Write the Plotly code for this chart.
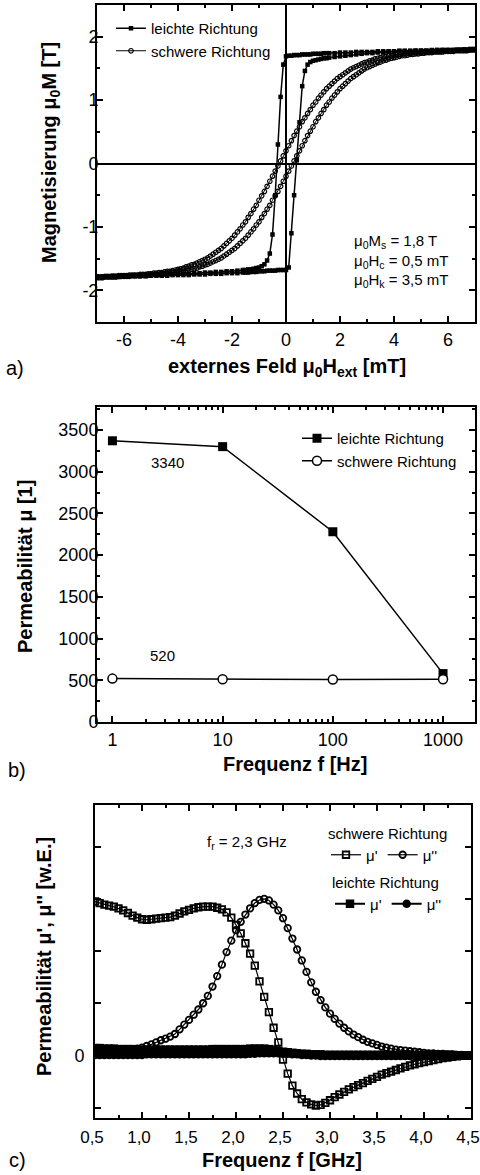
import plotly.graph_objects as go

# ---------------- Panel a: hysteresis loops ----------------
H_FINE = [round(-7.0 + 0.1 * i, 1) for i in range(141)]

M_SCHWER_AB = [
    -1.79, -1.79, -1.79, -1.78, -1.78, -1.78, -1.78, -1.78, -1.77, -1.77,
    -1.77, -1.77, -1.76, -1.76, -1.76, -1.76, -1.75, -1.75, -1.75, -1.74,
    -1.74, -1.73, -1.73, -1.72, -1.72, -1.71, -1.70, -1.70, -1.69, -1.68,
    -1.67, -1.66, -1.65, -1.63, -1.62, -1.60, -1.59, -1.57, -1.55, -1.53,
    -1.51, -1.49, -1.46, -1.43, -1.40, -1.37, -1.34, -1.30, -1.26, -1.22,
    -1.18, -1.13, -1.08, -1.03, -0.97, -0.92, -0.85, -0.79, -0.72, -0.66,
    -0.58, -0.51, -0.44, -0.36, -0.28, -0.20, -0.12, -0.04,
    0.04, 0.12, 0.20, 0.28, 0.36, 0.44, 0.51, 0.58, 0.66, 0.72,
    0.79, 0.85, 0.92, 0.97, 1.03, 1.08, 1.13, 1.18, 1.22, 1.26,
    1.30, 1.34, 1.37, 1.40, 1.43, 1.46, 1.49, 1.51, 1.53, 1.55,
    1.57, 1.59, 1.60, 1.62, 1.63, 1.65, 1.66, 1.67, 1.68, 1.69,
    1.70, 1.70, 1.71, 1.72, 1.72, 1.73, 1.73, 1.74, 1.74, 1.75,
    1.75, 1.75, 1.76, 1.76, 1.76, 1.76, 1.77, 1.77, 1.77, 1.77,
    1.78, 1.78, 1.78, 1.78, 1.78, 1.79, 1.79, 1.79, 1.79, 1.79,
    1.80, 1.80, 1.80]

M_SCHWER_AUF = [
    -1.80, -1.80, -1.80, -1.79, -1.79, -1.79, -1.79, -1.79, -1.78, -1.78,
    -1.78, -1.78, -1.78,
    -1.77, -1.77, -1.77, -1.77, -1.76, -1.76, -1.76, -1.76, -1.75, -1.75,
    -1.75, -1.74, -1.74, -1.73, -1.73, -1.72, -1.72, -1.71, -1.70, -1.70,
    -1.69, -1.68, -1.67, -1.66, -1.65, -1.63, -1.62, -1.60, -1.59, -1.57,
    -1.55, -1.53, -1.51, -1.49, -1.46, -1.43, -1.40, -1.37, -1.34, -1.30,
    -1.26, -1.22, -1.18, -1.13, -1.08, -1.03, -0.97, -0.92, -0.85, -0.79,
    -0.72, -0.66, -0.58, -0.51, -0.44, -0.36, -0.28, -0.20, -0.12, -0.04,
    0.04, 0.12, 0.20, 0.28, 0.36, 0.44, 0.51, 0.58, 0.66, 0.72,
    0.79, 0.85, 0.92, 0.97, 1.03, 1.08, 1.13, 1.18, 1.22, 1.26,
    1.30, 1.34, 1.37, 1.40, 1.43, 1.46, 1.49, 1.51, 1.53, 1.55,
    1.57, 1.59, 1.60, 1.62, 1.63, 1.65, 1.66, 1.67, 1.68, 1.69,
    1.70, 1.70, 1.71, 1.72, 1.72, 1.73, 1.73, 1.74, 1.74, 1.75,
    1.75, 1.75, 1.76, 1.76, 1.76, 1.76, 1.77, 1.77, 1.77, 1.77,
    1.78, 1.78, 1.78, 1.78, 1.78, 1.79, 1.79, 1.79]

H_LEICHT = ([round(-7.0 + 0.2 * i, 1) for i in range(28)]
            + [round(-1.5 + 0.1 * i, 1) for i in range(31)]
            + [round(1.6 + 0.2 * i, 1) for i in range(28)])

M_LEICHT_AB = [
    -1.78, -1.78, -1.78, -1.77, -1.77, -1.77, -1.77, -1.76, -1.76, -1.76,
    -1.76, -1.75, -1.75, -1.75, -1.75, -1.74, -1.74, -1.74, -1.73, -1.73,
    -1.72, -1.72, -1.71, -1.71, -1.70, -1.70, -1.69, -1.68,
    -1.68, -1.67, -1.67, -1.66, -1.65, -1.64, -1.62, -1.59, -1.53, -1.42,
    -1.12, -0.50, 0.30, 1.05, 1.56, 1.69,
    1.70, 1.70, 1.71, 1.71, 1.71, 1.72, 1.72, 1.72, 1.72, 1.73,
    1.73, 1.73, 1.73, 1.74, 1.74,
    1.74, 1.74, 1.75, 1.75, 1.75, 1.76, 1.76, 1.76, 1.76, 1.77,
    1.77, 1.77, 1.77, 1.78, 1.78, 1.78, 1.78, 1.78, 1.78, 1.79,
    1.79, 1.79, 1.79, 1.79, 1.79, 1.79, 1.79, 1.80]

M_LEICHT_AUF = [
    -1.79, -1.79, -1.79, -1.79, -1.79, -1.78, -1.78, -1.78, -1.78, -1.78,
    -1.77, -1.77, -1.77, -1.77, -1.76, -1.76, -1.76, -1.76, -1.75, -1.75,
    -1.75, -1.74, -1.74, -1.74, -1.73, -1.73, -1.73, -1.72,
    -1.72, -1.72, -1.71, -1.71, -1.71, -1.70, -1.70, -1.70, -1.69, -1.69,
    -1.69, -1.69, -1.68, -1.68, -1.68, -1.68,
    -1.64, -1.10, -0.50, 0.05, 0.65, 1.22, 1.46, 1.56, 1.60, 1.62,
    1.63, 1.64, 1.65, 1.66, 1.66,
    1.67, 1.68, 1.69, 1.70, 1.71, 1.72, 1.73, 1.74, 1.74, 1.75,
    1.75, 1.76, 1.76, 1.77, 1.77, 1.77, 1.78, 1.78, 1.78, 1.78,
    1.79, 1.79, 1.79, 1.79, 1.79, 1.80, 1.80, 1.80]

A_XTICKS = [-6, -4, -2, 0, 2, 4, 6]
A_YTICKS = [-2, -1, 0, 1, 2]

# ---------------- Panel b: permeability vs frequency ----------------
F_HZ = [1, 10, 100, 1000]
MU_LEICHT = [3370, 3300, 2280, 580]
MU_SCHWER = [520, 512, 510, 512]
B_YTICKS = [0, 500, 1000, 1500, 2000, 2500, 3000, 3500]

# ---------------- Panel c: HF permeability ----------------
F_GHZ = [round(0.5 + 0.05 * i, 2) for i in range(81)]

MU1_SCHWER = [
    2.95, 2.92, 2.89, 2.87, 2.85, 2.82, 2.78, 2.73, 2.68, 2.64, 2.61,
    2.60, 2.61, 2.62, 2.63, 2.64, 2.65, 2.68, 2.72, 2.76, 2.79,
    2.82, 2.84, 2.85, 2.85, 2.85, 2.83, 2.80, 2.74, 2.64, 2.50,
    2.34, 2.15, 1.95, 1.72, 1.42, 1.12, 0.83, 0.53, 0.25, -0.08,
    -0.35, -0.58, -0.73, -0.84, -0.90, -0.94, -0.96, -0.95, -0.91, -0.86,
    -0.80, -0.75, -0.70, -0.65, -0.61, -0.57, -0.53, -0.49, -0.45, -0.41,
    -0.37, -0.34, -0.31, -0.28, -0.25, -0.22, -0.19, -0.17, -0.15, -0.13,
    -0.11, -0.09, -0.07, -0.05, -0.04, -0.03, -0.02, -0.01, -0.01, 0.00]

MU2_SCHWER = [
    0.05, 0.05, 0.05, 0.06, 0.06, 0.07, 0.08, 0.09, 0.11, 0.13, 0.15,
    0.18, 0.21, 0.25, 0.29, 0.32, 0.36, 0.41, 0.50, 0.59, 0.68,
    0.78, 0.88, 1.00, 1.14, 1.32, 1.52, 1.74, 1.98, 2.20, 2.40,
    2.56, 2.70, 2.82, 2.92, 2.98, 3.00, 2.97, 2.89, 2.78, 2.63,
    2.44, 2.24, 2.03, 1.82, 1.60, 1.40, 1.22, 1.06, 0.92, 0.80,
    0.70, 0.61, 0.53, 0.46, 0.40, 0.35, 0.30, 0.26, 0.23, 0.20,
    0.17, 0.15, 0.13, 0.11, 0.10, 0.09, 0.08, 0.07, 0.06, 0.05,
    0.04, 0.04, 0.03, 0.03, 0.02, 0.02, 0.01, 0.01, 0.00, 0.00]

MU1_LEICHT = [
    0.14, 0.14, 0.13, 0.13, 0.13, 0.12, 0.12, 0.12, 0.12, 0.11, 0.11,
    0.11, 0.11, 0.11, 0.11, 0.11, 0.11, 0.11, 0.11, 0.11, 0.11,
    0.11, 0.11, 0.11, 0.11, 0.12, 0.12, 0.12, 0.12, 0.12, 0.12,
    0.12, 0.12, 0.13, 0.13, 0.13, 0.13, 0.12, 0.11, 0.09, 0.07,
    0.06, 0.05, 0.04, 0.03, 0.03, 0.02, 0.02, 0.02, 0.01, 0.01,
    0.01, 0.01, 0.01, 0.01, 0.01, 0.01, 0.01, 0.01, 0.01, 0.01,
    0.01, 0.01, 0.01, 0.01, 0.01, 0.01, 0.01, 0.01, 0.01, 0.01,
    0.01, 0.01, 0.01, 0.01, 0.01, 0.01, 0.00, 0.00, 0.00, 0.00]

MU2_LEICHT = [
    0.01, 0.01, 0.01, 0.01, 0.01, 0.01, 0.01, 0.01, 0.01, 0.01, 0.01,
    0.02, 0.02, 0.02, 0.02, 0.02, 0.02, 0.02, 0.02, 0.02, 0.02,
    0.02, 0.02, 0.02, 0.02, 0.02, 0.02, 0.02, 0.02, 0.02, 0.02,
    0.02, 0.02, 0.03, 0.03, 0.04, 0.04, 0.04, 0.04, 0.04, 0.03,
    0.03, 0.02, 0.02, 0.01, 0.01, 0.00, 0.00, -0.01, -0.01, -0.01,
    -0.01, -0.01, -0.01, -0.01, -0.01, -0.01, -0.01, -0.01, -0.01, -0.01,
    -0.01, -0.01, -0.01, -0.01, -0.01, -0.01, -0.01, -0.01, -0.01, -0.01,
    -0.01, -0.01, -0.01, -0.01, -0.01, 0.00, 0.00, 0.00, 0.00, 0.00]

C_XTICKS = [0.5, 1.0, 1.5, 2.0, 2.5, 3.0, 3.5, 4.0, 4.5]
C_XTEXT = ["0,5", "1,0", "1,5", "2,0", "2,5", "3,0", "3,5", "4,0", "4,5"]
C_YTICKS_UNLABELED = [-1, 1, 2, 3, 4]

# ---------------- figure ----------------
FONT = "Liberation Sans, Arial, sans-serif"
W, H = 480, 1175


def px(xp):
    return xp / W


def py(yp):
    return 1 - yp / H


fig = go.Figure()

# panel a
fig.add_trace(go.Scatter(x=H_LEICHT, y=M_LEICHT_AB, mode="lines+markers",
                         xaxis="x", yaxis="y", name="leichte Richtung", legend="legend",
                         line=dict(color="black", width=1.5),
                         marker=dict(symbol="square", size=4.5, color="black")))
fig.add_trace(go.Scatter(x=H_LEICHT, y=M_LEICHT_AUF, mode="lines+markers",
                         xaxis="x", yaxis="y", showlegend=False,
                         line=dict(color="black", width=1.5),
                         marker=dict(symbol="square", size=4.5, color="black")))
fig.add_trace(go.Scatter(x=H_FINE, y=M_SCHWER_AB, mode="lines+markers",
                         xaxis="x", yaxis="y", name="schwere Richtung", legend="legend",
                         line=dict(color="black", width=1),
                         marker=dict(symbol="circle-open", size=4.5, color="black",
                                     line=dict(width=1.2, color="black"))))
fig.add_trace(go.Scatter(x=H_FINE, y=M_SCHWER_AUF, mode="lines+markers",
                         xaxis="x", yaxis="y", showlegend=False,
                         line=dict(color="black", width=1),
                         marker=dict(symbol="circle-open", size=4.5, color="black",
                                     line=dict(width=1.2, color="black"))))

# panel b
fig.add_trace(go.Scatter(x=F_HZ, y=MU_LEICHT, mode="lines+markers",
                         xaxis="x2", yaxis="y2", name="leichte Richtung", legend="legend2",
                         line=dict(color="black", width=1.5),
                         marker=dict(symbol="square", size=9, color="black")))
fig.add_trace(go.Scatter(x=F_HZ, y=MU_SCHWER, mode="lines+markers",
                         xaxis="x2", yaxis="y2", name="schwere Richtung", legend="legend2",
                         line=dict(color="black", width=1.5),
                         marker=dict(symbol="circle", size=9, color="white",
                                     line=dict(width=1.5, color="black"))))

# panel c
fig.add_trace(go.Scatter(x=F_GHZ, y=MU1_LEICHT, mode="lines+markers",
                         xaxis="x3", yaxis="y3", name="μ'", legend="legend4",
                         line=dict(color="black", width=2),
                         marker=dict(symbol="square", size=8.5, color="black")))
fig.add_trace(go.Scatter(x=F_GHZ, y=MU2_LEICHT, mode="lines+markers",
                         xaxis="x3", yaxis="y3", name="μ''", legend="legend4",
                         line=dict(color="black", width=2),
                         marker=dict(symbol="circle", size=8.5, color="black")))
fig.add_trace(go.Scatter(x=F_GHZ, y=MU1_SCHWER, mode="lines+markers",
                         xaxis="x3", yaxis="y3", name="μ'", legend="legend3",
                         line=dict(color="black", width=1.2),
                         marker=dict(symbol="square-open", size=6.5, color="black",
                                     line=dict(width=1.8, color="black"))))
fig.add_trace(go.Scatter(x=F_GHZ, y=MU2_SCHWER, mode="lines+markers",
                         xaxis="x3", yaxis="y3", name="μ''", legend="legend3",
                         line=dict(color="black", width=1.2),
                         marker=dict(symbol="circle-open", size=6.5, color="black",
                                     line=dict(width=1.8, color="black"))))

TICKFONT = dict(family=FONT, size=18, color="black")
base = dict(showline=True, linecolor="black", linewidth=2, mirror="allticks",
            ticks="inside", ticklen=6, tickwidth=1.5, tickcolor="black",
            showgrid=False, zeroline=False, tickfont=TICKFONT, automargin=False,
            ticklabeloverflow="allow")
minor_base = dict(ticks="inside", ticklen=3, tickwidth=1.5, tickcolor="black", showgrid=False)
LEGFONT = dict(family=FONT, size=15, color="black")

fig.update_layout(
    width=W, height=H, margin=dict(l=0, r=0, t=0, b=0, autoexpand=False),
    paper_bgcolor="white", plot_bgcolor="white",
    font=dict(family=FONT, color="black"),
    xaxis=dict(base, domain=[px(97), px(475)], anchor="y", range=[-7, 7],
               tickmode="array", tickvals=A_XTICKS, ticktext=[str(v) for v in A_XTICKS],
               minor=dict(minor_base, tickmode="linear", tick0=-7, dtick=1),
               zeroline=True, zerolinecolor="black", zerolinewidth=1.5),
    yaxis=dict(base, domain=[py(322), py(5)], anchor="x", range=[-2.5, 2.5],
               tickmode="array", tickvals=A_YTICKS, ticktext=[str(v) for v in A_YTICKS],
               minor=dict(minor_base, tickmode="linear", tick0=-2.5, dtick=0.5),
               zeroline=True, zerolinecolor="black", zerolinewidth=1.5,
               ticklabelstandoff=-7),
    xaxis2=dict(base, domain=[px(97), px(475)], anchor="y2", type="log",
                range=[-0.14, 3.29], tickmode="array", tickvals=F_HZ,
                ticktext=[str(v) for v in F_HZ],
                minor=dict(minor_base, tickmode="array",
                           tickvals=[m * 10 ** d for d in range(3) for m in range(2, 10)])),
    yaxis2=dict(base, domain=[py(722), py(407)], anchor="x2", range=[0, 3775],
                tickmode="array", tickvals=B_YTICKS, ticktext=[str(v) for v in B_YTICKS],
                minor=dict(minor_base, tickmode="linear", tick0=0, dtick=250),
                ticklabelstandoff=-7),
    xaxis3=dict(base, domain=[px(95), px(471)], anchor="y3", range=[0.5, 4.5],
                tickmode="array", tickvals=C_XTICKS, ticktext=C_XTEXT,
                tickfont=dict(family=FONT, size=17, color="black"),
                minor=dict(minor_base, tickmode="linear", tick0=0.5, dtick=0.25),
                ticklabelstandoff=3, ticklabelshift=-3),
    yaxis3=dict(base, domain=[py(1118), py(805)], anchor="x3", range=[-1.2, 4.8],
                tickmode="array", tickvals=[0], ticktext=["0"],
                minor=dict(minor_base, tickmode="array", tickvals=C_YTICKS_UNLABELED,
                           ticklen=6),
                ticklabelstandoff=5),
    legend=dict(x=px(111), y=py(12), xanchor="left", yanchor="top",
                bgcolor="rgba(0,0,0,0)", font=LEGFONT, tracegroupgap=0, itemwidth=30),
    legend2=dict(x=px(297), y=py(422), xanchor="left", yanchor="top",
                 bgcolor="rgba(0,0,0,0)", font=LEGFONT, tracegroupgap=0, itemwidth=30),
    legend3=dict(x=px(326), y=py(819), xanchor="left", yanchor="top", orientation="h",
                 bgcolor="rgba(0,0,0,0)", font=LEGFONT,
                 title=dict(text="schwere Richtung", side="top", font=LEGFONT),
                 itemwidth=30),
    legend4=dict(x=px(330), y=py(868), xanchor="left", yanchor="top", orientation="h",
                 bgcolor="rgba(0,0,0,0)", font=LEGFONT,
                 title=dict(text="leichte Richtung", side="top", font=LEGFONT),
                 itemwidth=30),
)

ann = []
TF = dict(family=FONT, size=20, color="black")
LBL = dict(family=FONT, size=20, color="black")
TXT = dict(family=FONT, size=15, color="black")


def note(text, x, y, font, **kw):
    d = dict(text=text, x=px(x), y=py(y), xref="paper", yref="paper", showarrow=False,
             xanchor="center", yanchor="middle", font=font)
    d.update(kw)
    ann.append(d)


note("<b>externes Feld μ<sub>0</sub>H<sub>ext</sub> [mT]</b>", 287, 367, TF)
note("<b>Magnetisierung μ<sub>0</sub>M [T]</b>", 50, 153, TF, textangle=-90)
note("a)", 15, 368, LBL)
note("μ<sub>0</sub>M<sub>s</sub> = 1,8 T<br>μ<sub>0</sub>H<sub>c</sub> = 0,5 mT<br>μ<sub>0</sub>H<sub>k</sub> = 3,5 mT",
     352, 261, TXT, xanchor="left", align="left")

note("<b>Frequenz f [Hz]</b>", 295, 764, TF)
note("<b>Permeabilität μ [1]</b>", 25, 567, TF, textangle=-90)
note("b)", 17, 770, LBL)
note("3340", 167, 462, TXT)
note("520", 162, 655, TXT)

note("<b>Frequenz f [GHz]</b>", 282, 1160, TF)
note("<b>Permeabilität μ', μ'' [w.E.]</b>", 44, 957, TF, textangle=-90)
note("c)", 17, 1160, LBL)
note("f<sub>r</sub> = 2,3 GHz", 247, 843, TXT)

fig.update_layout(annotations=ann)
fig.write_html("out.html")
